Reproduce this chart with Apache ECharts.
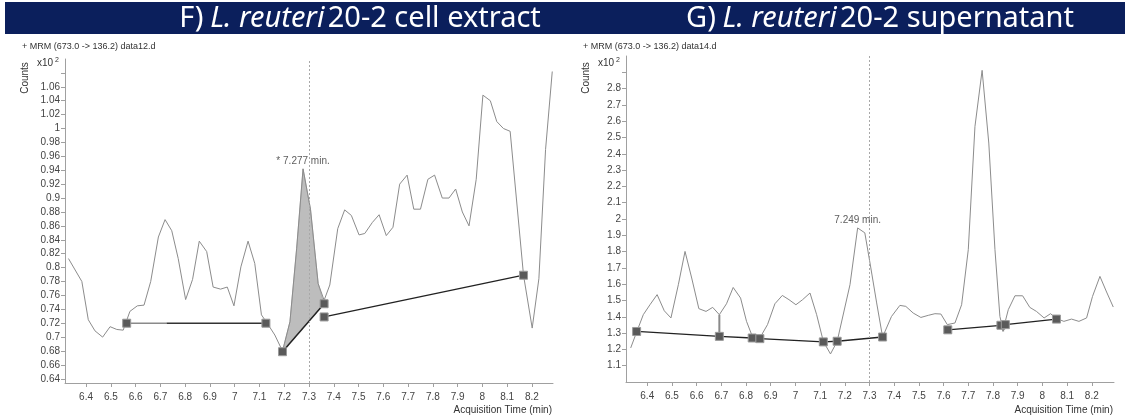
<!DOCTYPE html>
<html><head><meta charset="utf-8">
<script src="https://cdn.jsdelivr.net/npm/echarts@6/dist/echarts.min.js"></script>
<style>html,body{margin:0;padding:0;background:#fff}#c{width:1125px;height:419px}</style>
</head><body><div id="c"></div>
<script>
// ---------- Panel F: L. reuteri 20-2 cell extract ----------
const leftTime = [6.329,6.383,6.409,6.436,6.467,6.497,6.524,6.550,6.577,6.607,6.634,6.661,6.692,6.719,6.746,6.772,6.802,6.830,6.857,6.887,6.913,6.943,6.970,6.997,7.025,7.054,7.081,7.108,7.135,7.162,7.193,7.223,7.250,7.276,7.306,7.337,7.361,7.384,7.416,7.444,7.471,7.502,7.525,7.556,7.583,7.612,7.639,7.666,7.696,7.723,7.750,7.780,7.807,7.838,7.865,7.892,7.919,7.946,7.975,8.002,8.032,8.058,8.085,8.112,8.166,8.201,8.228,8.255,8.282];
const leftCounts = [0.813,0.780,0.725,0.709,0.700,0.715,0.711,0.710,0.737,0.745,0.746,0.780,0.844,0.869,0.853,0.813,0.754,0.783,0.838,0.823,0.772,0.769,0.772,0.745,0.801,0.838,0.806,0.732,0.718,0.703,0.680,0.722,0.827,0.942,0.884,0.777,0.753,0.775,0.856,0.883,0.875,0.847,0.849,0.865,0.876,0.846,0.858,0.920,0.933,0.884,0.884,0.927,0.933,0.900,0.900,0.913,0.880,0.860,0.927,1.048,1.040,1.010,1.000,0.996,0.789,0.713,0.784,0.970,1.082];
const leftBaseFlatLight = [[6.564,0.720],[6.725,0.720]];
const leftBaseFlatDark = [[6.725,0.720],[7.126,0.720]];
const leftBasePeak = [[7.193,0.679],[7.361,0.748]];
const leftBaseLong = [[7.361,0.729],[8.166,0.789]];
const leftMarkers = [[6.564,0.720],[7.126,0.720],[7.193,0.679],[7.361,0.748],[7.361,0.729],[8.166,0.789]];
const leftPeak = [7.276,0.942];
const leftPeakText = '* 7.277 min.';
const leftYLabels = [0.64,0.66,0.68,0.7,0.72,0.74,0.76,0.78,0.8,0.82,0.84,0.86,0.88,0.9,0.92,0.94,0.96,0.98,1,1.02,1.04,1.06];
const leftYTicks = leftYLabels.concat([1.08]);

// ---------- Panel G: L. reuteri 20-2 supernatant ----------
const rightTime = [6.333,6.358,6.384,6.411,6.440,6.469,6.496,6.526,6.553,6.580,6.609,6.638,6.665,6.692,6.721,6.748,6.778,6.802,6.828,6.856,6.887,6.917,6.947,6.974,7.002,7.029,7.059,7.086,7.113,7.142,7.169,7.221,7.252,7.281,7.302,7.329,7.353,7.389,7.423,7.447,7.477,7.508,7.538,7.565,7.589,7.615,7.646,7.673,7.700,7.727,7.756,7.783,7.808,7.828,7.841,7.862,7.889,7.920,7.949,7.976,8.007,8.033,8.057,8.087,8.118,8.148,8.179,8.203,8.233,8.260,8.287];
const rightCounts = [1.209,1.310,1.413,1.474,1.536,1.437,1.393,1.597,1.801,1.638,1.450,1.433,1.458,1.413,1.480,1.580,1.515,1.372,1.270,1.270,1.352,1.480,1.531,1.505,1.474,1.505,1.546,1.413,1.249,1.172,1.249,1.597,1.945,1.915,1.730,1.485,1.276,1.402,1.470,1.464,1.423,1.396,1.409,1.419,1.417,1.352,1.362,1.474,1.812,2.568,2.912,2.466,1.812,1.402,1.320,1.444,1.529,1.529,1.458,1.433,1.393,1.419,1.390,1.372,1.386,1.372,1.393,1.525,1.648,1.552,1.460];
const rightBase1 = [[6.357,1.310],[6.692,1.280],[6.825,1.270],[6.856,1.266],[7.113,1.246],[7.169,1.250],[7.353,1.276]];
const rightBase2 = [[7.617,1.320],[7.832,1.348],[7.850,1.352],[8.057,1.386]];
const rightDrops = [[[6.692,1.413],[6.692,1.280]],[[7.841,1.350],[7.841,1.310]]];
const rightPeak = [7.252,1.945];
const rightPeakText = '7.249 min.';
const rightYLabels = [1.1,1.2,1.3,1.4,1.5,1.6,1.7,1.8,1.9,2,2.1,2.2,2.3,2.4,2.5,2.6,2.7,2.8];
const rightYTicks = rightYLabels.concat([2.9]);

const xTickLabels = [6.4,6.5,6.6,6.7,6.8,6.9,7,7.1,7.2,7.3,7.4,7.5,7.6,7.7,7.8,7.9,8,8.1,8.2];
const retentionLine = 7.3;
const titles = [
  ['F)', 'L. reuteri', '20-2 cell extract'],
  ['G)', 'L. reuteri', '20-2 supernatant']
];
const headers = ['+ MRM (673.0 -> 136.2) data12.d', '+ MRM (673.0 -> 136.2) data14.d'];

const FONT = 'Liberation Sans, Arial, sans-serif';
const zip = (a, b) => a.map((t, i) => [t, b[i]]);

function xAxis(idx, min, max) {
  return {
    gridIndex: idx, type: 'value', min: min, max: max,
    axisLine: {show: true, lineStyle: {color: '#a0a0a0', width: 1}},
    axisTick: {show: true, customValues: xTickLabels, length: 4, lineStyle: {color: '#a0a0a0'}},
    axisLabel: {customValues: xTickLabels, color: '#444', fontSize: 10, fontFamily: FONT, margin: 9},
    splitLine: {show: false}
  };
}
function yAxis(idx, min, max, labels, ticks) {
  return {
    gridIndex: idx, type: 'value', min: min, max: max,
    axisLine: {show: true, lineStyle: {color: '#a0a0a0', width: 1}},
    axisTick: {show: true, customValues: ticks, length: 4, lineStyle: {color: '#a0a0a0'}},
    axisLabel: {customValues: labels, color: '#444', fontSize: 10, fontFamily: FONT, margin: 5},
    splitLine: {show: false}
  };
}
function curve(idx, data) {
  return {
    type: 'line', xAxisIndex: idx, yAxisIndex: idx, data: data, symbol: 'none',
    lineStyle: {color: '#8c8c8c', width: 1}, z: 3, silent: true,
    markLine: {
      silent: true, symbol: 'none', label: {show: false},
      lineStyle: {color: '#a8a8a8', type: [2, 2], width: 1},
      data: [{xAxis: retentionLine}]
    }
  };
}
function base(idx, data, color, w) {
  return {
    type: 'line', xAxisIndex: idx, yAxisIndex: idx, data: data, symbol: 'none',
    lineStyle: {color: color, width: w}, z: 4, silent: true
  };
}
function markers(idx, data) {
  return {
    type: 'scatter', xAxisIndex: idx, yAxisIndex: idx, data: data, symbol: 'rect', symbolSize: 8,
    itemStyle: {color: '#5a5a5a', borderColor: '#9a9a9a', borderWidth: 1, opacity: 1}, z: 6, silent: true
  };
}
function peakLabel(idx, pt, text) {
  return {
    type: 'scatter', xAxisIndex: idx, yAxisIndex: idx, data: [pt], symbolSize: 1,
    itemStyle: {color: 'rgba(0,0,0,0)'}, z: 7, silent: true,
    label: {show: true, position: 'top', distance: 2, formatter: text, color: '#333', fontSize: 10, fontFamily: FONT}
  };
}

const series = [];
// peak area (shaded between curve and baseline)
series.push({
  type: 'custom', xAxisIndex: 0, yAxisIndex: 0, data: [[leftPeak[0], leftPeak[1]]], z: 2, silent: true,
  renderItem: function (params, api) {
    const a = leftBasePeak[0][0], b = leftBasePeak[1][0];
    const pts = [];
    pts.push(api.coord(leftBasePeak[0]));
    leftTime.forEach((t, i) => { if (t > a && t < b) pts.push(api.coord([t, leftCounts[i]])); });
    pts.push(api.coord(leftBasePeak[1]));
    return {type: 'polygon', shape: {points: pts}, style: {fill: '#bdbdbd', stroke: '#8c8c8c', lineWidth: 0.5}};
  }
});
series.push(curve(0, zip(leftTime, leftCounts)));
series.push(base(0, leftBaseFlatLight, '#8a8a8a', 1.5));
series.push(base(0, leftBaseFlatDark, '#333', 1.5));
series.push(base(0, leftBasePeak, '#222', 1.5));
series.push(base(0, leftBaseLong, '#222', 1.3));
series.push(markers(0, leftMarkers));
series.push(peakLabel(0, leftPeak, leftPeakText));

series.push(curve(1, zip(rightTime, rightCounts)));
rightDrops.forEach(d => series.push(base(1, d, '#8a8a8a', 2)));
series.push(base(1, rightBase1, '#222', 1.3));
series.push(base(1, rightBase2, '#222', 1.3));
series.push(markers(1, rightBase1.concat(rightBase2)));
series.push(peakLabel(1, rightPeak, rightPeakText));

function titleText(x, parts) {
  return {
    type: 'text', x: x, y: 19, z: 10,
    style: {
      text: '{a|' + parts[0] + '}  {b|' + parts[1] + '} {a|' + parts[2] + '}',
      align: 'center', verticalAlign: 'middle', fill: '#fff',
      rich: {
        a: {fontSize: 29, fontFamily: 'Noto Sans, sans-serif', fill: '#fff'},
        b: {fontSize: 29, fontFamily: 'Noto Sans, sans-serif', fontStyle: 'italic', fill: '#fff'}
      }
    }
  };
}
function panelTexts(axisX, hdr) {
  return [
    {type: 'text', x: axisX - 43, y: 47, style: {text: hdr, fontSize: 9, fontFamily: FONT, fill: '#333', verticalAlign: 'middle'}},
    {type: 'text', x: axisX - 40, y: 78, rotation: Math.PI / 2,
      style: {text: 'Counts', fontSize: 10, fontFamily: FONT, fill: '#333', align: 'center', verticalAlign: 'middle'}},
    {type: 'text', x: axisX - 28, y: 63,
      style: {text: '{a|x10}{b| 2}', fontFamily: FONT, fill: '#333', verticalAlign: 'middle',
        rich: {a: {fontSize: 10, fill: '#333'}, b: {fontSize: 7, fill: '#333', verticalAlign: 'top', padding: [0, 0, 6, 0]}}}},
    {type: 'text', x: axisX + 487, y: 410,
      style: {text: 'Acquisition Time (min)', fontSize: 10, fontFamily: FONT, fill: '#333', align: 'right', verticalAlign: 'middle'}}
  ];
}

const chart = echarts.init(document.getElementById('c'), null, {renderer: 'canvas'});
chart.setOption({
  animation: false,
  backgroundColor: '#fff',
  grid: [
    {left: 65, width: 488, top: 59, height: 324},
    {left: 626, width: 488, top: 56, height: 326}
  ],
  xAxis: [xAxis(0, 6.315, 8.285), xAxis(1, 6.314, 8.29)],
  yAxis: [yAxis(0, 0.634, 1.10, leftYLabels, leftYTicks), yAxis(1, 1.0, 3.0, rightYLabels, rightYTicks)],
  series: series,
  graphic: [
    {type: 'rect', shape: {x: 5, y: 2, width: 1120, height: 32}, style: {fill: '#0b1f5c'}, z: 9}
  ].concat([titleText(360, titles[0]), titleText(880, titles[1])])
   .concat(panelTexts(65, headers[0])).concat(panelTexts(626, headers[1]))
});
</script>
</body></html>
